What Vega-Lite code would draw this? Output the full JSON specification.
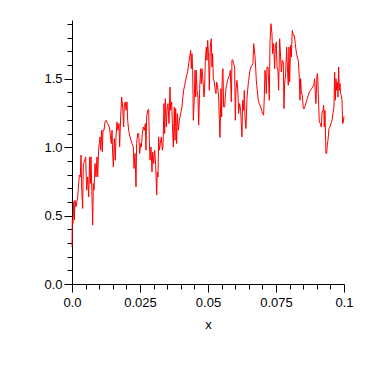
{
  "$schema": "https://vega.github.io/schema/vega-lite/v6.json",
  "width": 272,
  "height": 264,
  "autosize": {"type": "none"},
  "padding": {"left": 72, "top": 20, "right": 38, "bottom": 98},
  "background": "white",
  "config": {
    "view": {"stroke": null},
    "axis": {
      "grid": false,
      "domainColor": "black",
      "tickColor": "black",
      "labelColor": "black",
      "titleColor": "black",
      "labelFont": "Liberation Sans",
      "titleFont": "Liberation Sans",
      "labelFontSize": 13,
      "titleFontSize": 13,
      "titleFontWeight": "normal",
      "domainWidth": 1,
      "tickWidth": 1
    }
  },
  "data": {
    "values": [
      {"x": 0.0, "y": 0.272}, {"x": 0.00012, "y": 0.467}, {"x": 0.00037, "y": 0.443}, {"x": 0.00061, "y": 0.601},
      {"x": 0.00086, "y": 0.467}, {"x": 0.0011, "y": 0.613}, {"x": 0.00147, "y": 0.564}, {"x": 0.00208, "y": 0.637},
      {"x": 0.0027, "y": 0.796}, {"x": 0.00306, "y": 0.783}, {"x": 0.00331, "y": 0.942}, {"x": 0.00355, "y": 0.71},
      {"x": 0.00392, "y": 0.552}, {"x": 0.00417, "y": 0.881}, {"x": 0.00453, "y": 0.893}, {"x": 0.00502, "y": 0.929},
      {"x": 0.00539, "y": 0.686}, {"x": 0.00576, "y": 0.783}, {"x": 0.00613, "y": 0.637}, {"x": 0.0065, "y": 0.929},
      {"x": 0.00674, "y": 0.735}, {"x": 0.00699, "y": 0.929}, {"x": 0.00735, "y": 0.637}, {"x": 0.0076, "y": 0.431},
      {"x": 0.00784, "y": 0.735}, {"x": 0.00809, "y": 0.686}, {"x": 0.00846, "y": 0.881}, {"x": 0.00882, "y": 0.783},
      {"x": 0.00919, "y": 0.929}, {"x": 0.00944, "y": 0.783}, {"x": 0.0098, "y": 0.99}, {"x": 0.01005, "y": 1.027},
      {"x": 0.01029, "y": 1.075}, {"x": 0.01054, "y": 0.978}, {"x": 0.01091, "y": 1.124}, {"x": 0.01115, "y": 0.966},
      {"x": 0.0114, "y": 1.124}, {"x": 0.01176, "y": 1.124}, {"x": 0.01213, "y": 1.185}, {"x": 0.0125, "y": 1.197},
      {"x": 0.01311, "y": 1.173}, {"x": 0.01373, "y": 1.148}, {"x": 0.01409, "y": 1.088}, {"x": 0.01446, "y": 1.027},
      {"x": 0.01471, "y": 1.124}, {"x": 0.01495, "y": 0.954}, {"x": 0.0152, "y": 0.856}, {"x": 0.01556, "y": 1.063},
      {"x": 0.01593, "y": 0.905}, {"x": 0.01618, "y": 1.075}, {"x": 0.01654, "y": 1.185}, {"x": 0.01691, "y": 1.124},
      {"x": 0.01728, "y": 1.173}, {"x": 0.01752, "y": 1.002}, {"x": 0.01789, "y": 1.221}, {"x": 0.01826, "y": 1.367},
      {"x": 0.01863, "y": 1.294}, {"x": 0.01899, "y": 1.148}, {"x": 0.01924, "y": 1.319}, {"x": 0.01961, "y": 1.331},
      {"x": 0.01985, "y": 1.27}, {"x": 0.02022, "y": 1.331}, {"x": 0.02047, "y": 1.197}, {"x": 0.02083, "y": 1.124},
      {"x": 0.02132, "y": 1.075}, {"x": 0.02169, "y": 1.051}, {"x": 0.02206, "y": 1.027}, {"x": 0.02255, "y": 1.002},
      {"x": 0.02279, "y": 0.844}, {"x": 0.02316, "y": 0.954}, {"x": 0.02353, "y": 0.71}, {"x": 0.02377, "y": 1.027},
      {"x": 0.02414, "y": 1.1}, {"x": 0.02451, "y": 1.1}, {"x": 0.02488, "y": 0.954}, {"x": 0.02525, "y": 1.027},
      {"x": 0.02549, "y": 1.002}, {"x": 0.02586, "y": 1.1}, {"x": 0.02623, "y": 1.148}, {"x": 0.02659, "y": 1.124},
      {"x": 0.02696, "y": 1.173}, {"x": 0.02721, "y": 0.978}, {"x": 0.02745, "y": 1.221}, {"x": 0.02782, "y": 1.27},
      {"x": 0.02819, "y": 1.277}, {"x": 0.02843, "y": 1.051}, {"x": 0.02868, "y": 0.905}, {"x": 0.02904, "y": 1.002},
      {"x": 0.02941, "y": 0.82}, {"x": 0.02966, "y": 0.966}, {"x": 0.03002, "y": 0.881}, {"x": 0.03039, "y": 0.978},
      {"x": 0.03076, "y": 0.869}, {"x": 0.03113, "y": 0.65}, {"x": 0.03137, "y": 0.82}, {"x": 0.03162, "y": 0.783},
      {"x": 0.03186, "y": 1.075}, {"x": 0.03211, "y": 0.978}, {"x": 0.03248, "y": 1.027}, {"x": 0.03284, "y": 1.075},
      {"x": 0.03321, "y": 0.978}, {"x": 0.03346, "y": 1.002}, {"x": 0.03382, "y": 1.319}, {"x": 0.03407, "y": 1.1},
      {"x": 0.03431, "y": 1.355}, {"x": 0.03468, "y": 1.148}, {"x": 0.03493, "y": 1.27}, {"x": 0.03529, "y": 1.319},
      {"x": 0.03566, "y": 1.173}, {"x": 0.03603, "y": 1.44}, {"x": 0.03627, "y": 1.27}, {"x": 0.03664, "y": 1.331},
      {"x": 0.03689, "y": 1.173}, {"x": 0.03725, "y": 1.002}, {"x": 0.03762, "y": 1.294}, {"x": 0.03787, "y": 1.051},
      {"x": 0.03811, "y": 1.282}, {"x": 0.03848, "y": 1.027}, {"x": 0.03873, "y": 1.246}, {"x": 0.03909, "y": 1.124},
      {"x": 0.03946, "y": 1.197}, {"x": 0.04007, "y": 1.258}, {"x": 0.04044, "y": 1.294}, {"x": 0.04069, "y": 1.355},
      {"x": 0.04105, "y": 1.416}, {"x": 0.04142, "y": 1.453}, {"x": 0.04179, "y": 1.489}, {"x": 0.04216, "y": 1.526},
      {"x": 0.04252, "y": 1.55}, {"x": 0.04289, "y": 1.611}, {"x": 0.04326, "y": 1.659}, {"x": 0.04363, "y": 1.708},
      {"x": 0.04387, "y": 1.574}, {"x": 0.04412, "y": 1.684}, {"x": 0.04436, "y": 1.562}, {"x": 0.04461, "y": 1.197},
      {"x": 0.04498, "y": 1.367}, {"x": 0.04522, "y": 1.562}, {"x": 0.04547, "y": 1.367}, {"x": 0.04571, "y": 1.562},
      {"x": 0.04596, "y": 1.416}, {"x": 0.04632, "y": 1.367}, {"x": 0.04657, "y": 1.161}, {"x": 0.04694, "y": 1.428},
      {"x": 0.0473, "y": 1.574}, {"x": 0.04755, "y": 1.465}, {"x": 0.04779, "y": 1.574}, {"x": 0.04816, "y": 1.489},
      {"x": 0.04853, "y": 1.367}, {"x": 0.04877, "y": 1.428}, {"x": 0.04902, "y": 1.635}, {"x": 0.04939, "y": 1.732},
      {"x": 0.04963, "y": 1.635}, {"x": 0.04988, "y": 1.781}, {"x": 0.05023, "y": 1.659}, {"x": 0.05048, "y": 1.416},
      {"x": 0.05085, "y": 1.732}, {"x": 0.05121, "y": 1.793}, {"x": 0.05146, "y": 1.586}, {"x": 0.0517, "y": 1.684},
      {"x": 0.05195, "y": 1.501}, {"x": 0.05232, "y": 1.477}, {"x": 0.05269, "y": 1.416}, {"x": 0.05293, "y": 1.392},
      {"x": 0.05318, "y": 1.477}, {"x": 0.05354, "y": 1.44}, {"x": 0.05391, "y": 1.367}, {"x": 0.05415, "y": 1.221},
      {"x": 0.0544, "y": 1.071}, {"x": 0.05477, "y": 1.428}, {"x": 0.05501, "y": 1.221}, {"x": 0.05526, "y": 1.538},
      {"x": 0.0555, "y": 1.574}, {"x": 0.05575, "y": 1.294}, {"x": 0.05612, "y": 1.294}, {"x": 0.05636, "y": 1.367},
      {"x": 0.05661, "y": 1.428}, {"x": 0.05685, "y": 1.453}, {"x": 0.05722, "y": 1.489}, {"x": 0.05759, "y": 1.513},
      {"x": 0.05795, "y": 1.526}, {"x": 0.0582, "y": 1.562}, {"x": 0.05857, "y": 1.331}, {"x": 0.05881, "y": 1.635},
      {"x": 0.05906, "y": 1.64}, {"x": 0.05942, "y": 1.611}, {"x": 0.05979, "y": 1.586}, {"x": 0.06004, "y": 1.197},
      {"x": 0.06028, "y": 1.416}, {"x": 0.06065, "y": 1.489}, {"x": 0.06102, "y": 1.392}, {"x": 0.06126, "y": 1.246},
      {"x": 0.06163, "y": 1.319}, {"x": 0.062, "y": 1.27}, {"x": 0.06224, "y": 1.173}, {"x": 0.06249, "y": 1.075},
      {"x": 0.06273, "y": 1.343}, {"x": 0.0631, "y": 1.27}, {"x": 0.06335, "y": 1.416}, {"x": 0.06359, "y": 1.221},
      {"x": 0.06396, "y": 1.136}, {"x": 0.06433, "y": 1.355}, {"x": 0.06457, "y": 1.416}, {"x": 0.06494, "y": 1.489},
      {"x": 0.06543, "y": 1.562}, {"x": 0.0658, "y": 1.586}, {"x": 0.06616, "y": 1.599}, {"x": 0.06653, "y": 1.611},
      {"x": 0.06678, "y": 1.757}, {"x": 0.06714, "y": 1.696}, {"x": 0.06739, "y": 1.635}, {"x": 0.06776, "y": 1.489},
      {"x": 0.06812, "y": 1.416}, {"x": 0.06849, "y": 1.343}, {"x": 0.06886, "y": 1.319}, {"x": 0.06935, "y": 1.294},
      {"x": 0.06972, "y": 1.27}, {"x": 0.07009, "y": 1.246}, {"x": 0.07045, "y": 1.234}, {"x": 0.0707, "y": 1.367},
      {"x": 0.07094, "y": 1.562}, {"x": 0.07119, "y": 1.513}, {"x": 0.07143, "y": 1.392}, {"x": 0.07168, "y": 1.586},
      {"x": 0.07205, "y": 1.586}, {"x": 0.07229, "y": 1.477}, {"x": 0.07254, "y": 1.343}, {"x": 0.07278, "y": 1.757},
      {"x": 0.07315, "y": 1.903}, {"x": 0.07352, "y": 1.83}, {"x": 0.07376, "y": 1.684}, {"x": 0.07413, "y": 1.757},
      {"x": 0.0745, "y": 1.574}, {"x": 0.07474, "y": 1.72}, {"x": 0.07511, "y": 1.769}, {"x": 0.07536, "y": 1.586},
      {"x": 0.07572, "y": 1.562}, {"x": 0.07597, "y": 1.416}, {"x": 0.07634, "y": 1.793}, {"x": 0.07658, "y": 1.708},
      {"x": 0.07695, "y": 1.55}, {"x": 0.07732, "y": 1.635}, {"x": 0.07768, "y": 1.623}, {"x": 0.07793, "y": 1.282},
      {"x": 0.07817, "y": 1.465}, {"x": 0.07854, "y": 1.538}, {"x": 0.07891, "y": 1.732}, {"x": 0.07928, "y": 1.538},
      {"x": 0.07952, "y": 1.453}, {"x": 0.07977, "y": 1.732}, {"x": 0.08001, "y": 1.477}, {"x": 0.08038, "y": 1.745},
      {"x": 0.08063, "y": 1.659}, {"x": 0.08099, "y": 1.854}, {"x": 0.08136, "y": 1.818}, {"x": 0.08173, "y": 1.818},
      {"x": 0.0821, "y": 1.757}, {"x": 0.08246, "y": 1.696}, {"x": 0.08283, "y": 1.659}, {"x": 0.0832, "y": 1.635},
      {"x": 0.08357, "y": 1.513}, {"x": 0.08381, "y": 1.343}, {"x": 0.08406, "y": 1.501}, {"x": 0.0843, "y": 1.404},
      {"x": 0.08467, "y": 1.38}, {"x": 0.08504, "y": 1.282}, {"x": 0.0854, "y": 1.282}, {"x": 0.08577, "y": 1.307},
      {"x": 0.08614, "y": 1.331}, {"x": 0.08651, "y": 1.355}, {"x": 0.08687, "y": 1.38}, {"x": 0.08724, "y": 1.404},
      {"x": 0.08773, "y": 1.416}, {"x": 0.0881, "y": 1.428}, {"x": 0.08847, "y": 1.44}, {"x": 0.08896, "y": 1.46},
      {"x": 0.0892, "y": 1.501}, {"x": 0.08945, "y": 1.392}, {"x": 0.08969, "y": 1.319}, {"x": 0.09006, "y": 1.526},
      {"x": 0.09031, "y": 1.538}, {"x": 0.09055, "y": 1.392}, {"x": 0.09092, "y": 1.185}, {"x": 0.09129, "y": 1.173},
      {"x": 0.09166, "y": 1.148}, {"x": 0.0919, "y": 1.246}, {"x": 0.09227, "y": 1.27}, {"x": 0.09251, "y": 1.307},
      {"x": 0.09276, "y": 1.148}, {"x": 0.093, "y": 1.27}, {"x": 0.09337, "y": 0.954}, {"x": 0.09362, "y": 0.954},
      {"x": 0.09386, "y": 1.015}, {"x": 0.09411, "y": 1.051}, {"x": 0.09447, "y": 1.136}, {"x": 0.09484, "y": 1.148},
      {"x": 0.09521, "y": 1.173}, {"x": 0.09558, "y": 1.197}, {"x": 0.09594, "y": 1.246}, {"x": 0.09631, "y": 1.294},
      {"x": 0.09656, "y": 1.55}, {"x": 0.0968, "y": 1.343}, {"x": 0.09705, "y": 1.501}, {"x": 0.09729, "y": 1.416},
      {"x": 0.09754, "y": 1.477}, {"x": 0.09778, "y": 1.367}, {"x": 0.09803, "y": 1.586}, {"x": 0.09827, "y": 1.416},
      {"x": 0.09852, "y": 1.465}, {"x": 0.09876, "y": 1.392}, {"x": 0.09901, "y": 1.38}, {"x": 0.09926, "y": 1.343},
      {"x": 0.0995, "y": 1.173}, {"x": 0.09975, "y": 1.185}, {"x": 0.1, "y": 1.226}
    ]
  },
  "layer": [
    {
      "mark": {"type": "line", "color": "#ff0000", "strokeWidth": 1},
      "encoding": {
        "x": {
          "field": "x", "type": "quantitative",
          "scale": {"domain": [0, 0.1], "nice": false, "zero": false},
          "axis": {
            "orient": "bottom",
            "values": [0, 0.025, 0.05, 0.075, 0.1],
            "labelExpr": "datum.value == 0 ? '0.0' : '' + datum.value",
            "tickSize": 8,
            "labelPadding": 4,
            "labelFlush": false,
            "labelOverlap": false,
            "title": "x",
            "titlePadding": 9
          }
        },
        "y": {
          "field": "y", "type": "quantitative",
          "scale": {"domain": [0, 1.93], "nice": false, "zero": false},
          "axis": {
            "orient": "left",
            "values": [0, 0.5, 1, 1.5],
            "format": ".1f",
            "tickSize": 8,
            "labelPadding": 2,
            "labelFlush": false,
            "labelOverlap": false,
            "title": null
          }
        }
      }
    },
    {
      "mark": {"type": "line", "opacity": 0},
      "encoding": {
        "x": {
          "field": "x", "type": "quantitative",
          "scale": {"domain": [0, 0.1], "nice": false, "zero": false},
          "axis": {
            "orient": "bottom",
            "values": [0.005, 0.01, 0.015, 0.02, 0.03, 0.035, 0.04, 0.045, 0.055, 0.06, 0.065, 0.07, 0.08, 0.085, 0.09, 0.095],
            "labels": false,
            "domain": false,
            "tickSize": 5,
            "title": null
          }
        },
        "y": {
          "field": "y", "type": "quantitative",
          "scale": {"domain": [0, 1.93], "nice": false, "zero": false},
          "axis": {
            "orient": "left",
            "values": [0.1, 0.2, 0.3, 0.4, 0.6, 0.7, 0.8, 0.9, 1.1, 1.2, 1.3, 1.4, 1.6, 1.7, 1.8, 1.9],
            "labels": false,
            "domain": false,
            "tickSize": 5,
            "title": null
          }
        }
      }
    }
  ],
  "resolve": {"axis": {"x": "independent", "y": "independent"}}
}
